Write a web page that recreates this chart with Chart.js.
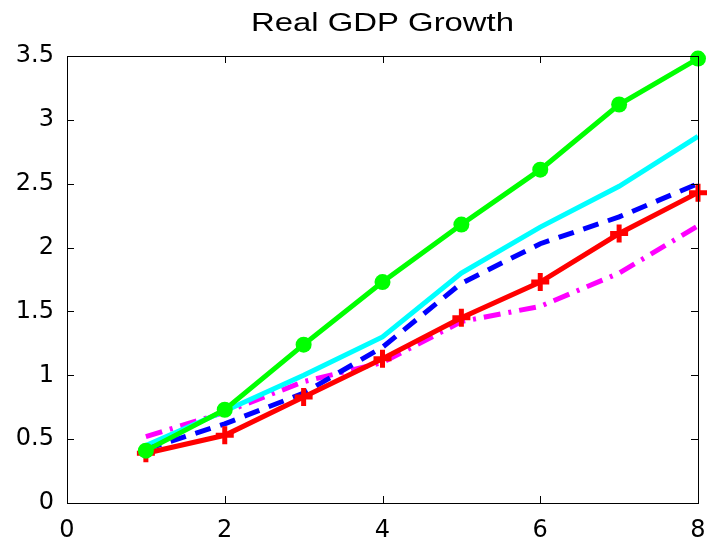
<!DOCTYPE html>
<html>
<head>
<meta charset="utf-8">
<script src="https://cdn.jsdelivr.net/npm/chart.js@4"></script>
<style>
  html, body { margin: 0; padding: 0; background: #fff; }
  #wrap { width: 713px; height: 547px; }
</style>
</head>
<body>
<div id="wrap"><canvas id="myChart" width="713" height="547"></canvas></div>
<script>
const titleText = 'Real GDP Growth';
const periods = [1, 2, 3, 4, 5, 6, 7, 8];
const xTicks = [0, 2, 4, 6, 8];
const yTicks = [0, 0.5, 1, 1.5, 2, 2.5, 3, 3.5];

const greenSeries = [0.41, 0.73, 1.24, 1.73, 2.18, 2.61, 3.12, 3.48];
const redSeries = [0.39, 0.53, 0.83, 1.13, 1.45, 1.73, 2.11, 2.43];
const blueSeries = [0.42, 0.62, 0.86, 1.22, 1.72, 2.03, 2.24, 2.5];
const cyanSeries = [0.45, 0.72, 1.0, 1.3, 1.8, 2.16, 2.48, 2.87];
const magentaSeries = [0.52, 0.71, 0.95, 1.1, 1.42, 1.54, 1.8, 2.17];

const toPoints = (vals) => vals.map((v, i) => ({ x: periods[i], y: v }));

// inward ticks on all four sides plus the box, like the original plot
const boxTicks = {
  id: 'boxTicks',
  afterDraw(chart) {
    const { ctx, chartArea: a, scales } = chart;
    ctx.save();
    ctx.strokeStyle = '#000';
    ctx.lineWidth = 1;
    ctx.strokeRect(a.left + 0.5, a.top + 0.5, a.right - a.left, a.bottom - a.top);
    ctx.beginPath();
    xTicks.forEach((t) => {
      const px = Math.round(scales.x.getPixelForValue(t)) + 0.5;
      ctx.moveTo(px, a.bottom); ctx.lineTo(px, a.bottom - 7);
      ctx.moveTo(px, a.top); ctx.lineTo(px, a.top + 7);
    });
    yTicks.forEach((t) => {
      const py = Math.round(scales.y.getPixelForValue(t)) + 0.5;
      ctx.moveTo(a.left, py); ctx.lineTo(a.left + 7, py);
      ctx.moveTo(a.right, py); ctx.lineTo(a.right - 7, py);
    });
    ctx.stroke();

    // title centred over the plot box, slightly stretched like the source
    ctx.font = '25px "Liberation Sans", Arial, sans-serif';
    ctx.fillStyle = '#000';
    ctx.textAlign = 'center';
    ctx.textBaseline = 'middle';
    const w = ctx.measureText(titleText).width;
    const sx = 263 / w;
    ctx.translate((a.left + a.right) / 2, 24);
    ctx.scale(sx, 1);
    ctx.fillText(titleText, 0, 0);
    ctx.restore();
  },
};

const tickFont = { family: 'DejaVu Sans, sans-serif', size: 24 };

new Chart(document.getElementById('myChart'), {
  type: 'line',
  data: {
    datasets: [
      {
        data: toPoints(greenSeries),
        borderColor: '#00ff00',
        backgroundColor: '#00ff00',
        borderWidth: 5,
        pointStyle: 'circle',
        pointRadius: 8,
        pointBorderWidth: 0,
        clip: false,
      },
      {
        data: toPoints(redSeries),
        borderColor: '#ff0000',
        backgroundColor: '#ff0000',
        borderWidth: 5,
        pointStyle: 'cross',
        pointRadius: 9,
        pointBorderWidth: 5,
        clip: false,
      },
      {
        data: toPoints(blueSeries),
        borderColor: '#0000ff',
        borderWidth: 5,
        borderDash: [16, 10],
        pointRadius: 0,
        clip: false,
      },
      {
        data: toPoints(cyanSeries),
        borderColor: '#00ffff',
        borderWidth: 5,
        pointRadius: 0,
        clip: false,
      },
      {
        data: toPoints(magentaSeries),
        borderColor: '#ff00ff',
        borderWidth: 5,
        borderDash: [17, 8, 3, 8],
        pointRadius: 0,
        clip: false,
      },
    ],
  },
  options: {
    responsive: false,
    animation: false,
    layout: { padding: { left: 0, right: 15, top: 56, bottom: 0 } },
    plugins: {
      legend: { display: false },
      tooltip: { enabled: false },
      title: { display: false },
    },
    scales: {
      x: {
        type: 'linear',
        min: 0,
        max: 8,
        afterBuildTicks: (s) => { s.ticks = xTicks.map((v) => ({ value: v })); },
        afterFit: (s) => { s.height = 44; s.paddingLeft = 0; s.paddingRight = 0; },
        grid: { display: false, drawTicks: false },
        border: { display: false },
        ticks: { color: '#000', font: tickFont, padding: 13, maxRotation: 0, callback: (v) => String(v) },
      },
      y: {
        type: 'linear',
        min: 0,
        max: 3.5,
        afterBuildTicks: (s) => { s.ticks = yTicks.map((v) => ({ value: v })); },
        afterFit: (s) => { s.width = 67; s.paddingTop = 0; s.paddingBottom = 0; },
        grid: { display: false, drawTicks: false },
        border: { display: false },
        ticks: { color: '#000', font: tickFont, padding: 13, callback: (v) => String(v) },
      },
    },
  },
  plugins: [boxTicks],
});
</script>
</body>
</html>
